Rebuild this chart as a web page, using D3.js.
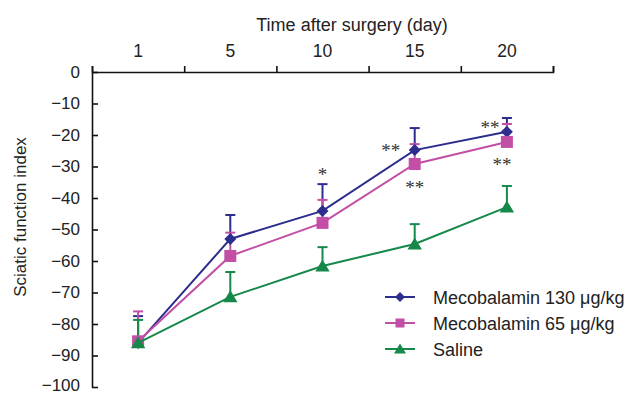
<!DOCTYPE html>
<html>
<head>
<meta charset="utf-8">
<script src="https://cdn.jsdelivr.net/npm/d3@7"></script>
<style>
  body { margin: 0; background: #fff; }
  svg { display: block; font-family: "Liberation Sans", Arial, sans-serif; }
</style>
</head>
<body>
<svg id="chart" width="633" height="394"></svg>
<script>
// days on the x axis
var days = ["1", "5", "10", "15", "20"];

// mean sciatic function index per group
var meco130 = [-86, -53, -44.1, -24.8, -19];
var meco65 = [-85.5, -58.4, -47.9, -29.2, -22.2];
var saline = [-86, -71.4, -61.6, -54.6, -42.9];

// upper error bar length (SD)
var meco130Sd = [8.5, 7.6, 8.5, 7, 4.4];
var meco65Sd = [9.5, 7.4, 7.3, 6.3, 5.7];
var salineSd = [7.3, 7.9, 6, 6.3, 6.7];

var yTicks = [0, -10, -20, -30, -40, -50, -60, -70, -80, -90, -100];

// significance marks: day, value where the mark sits, side of the point
var marks = [
  { day: "10", value: -31.7, text: "*", side: "center" },
  { day: "15", value: -24.1, text: "**", side: "left" },
  { day: "15", value: -35.9, text: "**", side: "center" },
  { day: "20", value: -16.8, text: "**", side: "left" },
  { day: "20", value: -28.6, text: "**", side: "right" }
];

var series = [
  { name: "Mecobalamin 130 \u03bcg/kg", values: meco130, sd: meco130Sd, color: "#2c2d8c", shape: "diamond" },
  { name: "Mecobalamin 65 \u03bcg/kg", values: meco65, sd: meco65Sd, color: "#c24fa5", shape: "square" },
  { name: "Saline", values: saline, sd: salineSd, color: "#16894a", shape: "triangle" }
];

var svg = d3.select("#chart");

var x = d3.scaleBand()
  .domain(days)
  .range([92, 553]);

var xEdge = d3.scaleLinear()
  .domain([0, days.length])
  .range([92, 553]);

var y = d3.scaleLinear()
  .domain([-100, 0])
  .range([387, 72]);

function cx(d) { return x(d) + x.bandwidth() / 2; }

// marker shapes
function markerPath(shape, s) {
  if (shape == "diamond") {
    return "M0," + (-s) + "L" + s + ",0L0," + s + "L" + (-s) + ",0Z";
  } else if (shape == "square") {
    return "M" + (-s) + "," + (-s) + "H" + s + "V" + s + "H" + (-s) + "Z";
  } else {
    return "M0," + (-s * 1.1) + "L" + (s * 1.2) + "," + (s * 0.9) + "L" + (-s * 1.2) + "," + (s * 0.9) + "Z";
  }
}

// axes
var yAxis = svg.append("g")
  .attr("transform", "translate(92,0)")
  .call(d3.axisLeft(y)
    .tickValues(yTicks)
    .tickSizeInner(-6)
    .tickSizeOuter(0)
    .tickPadding(12));

yAxis.select(".domain").attr("stroke", "#111").attr("stroke-width", 1.6);
yAxis.selectAll(".tick line").attr("stroke", "#111").attr("stroke-width", 1.6);
yAxis.selectAll("text").attr("font-size", 17).attr("fill", "#222")
  .attr("font-family", "Liberation Sans, Arial, sans-serif")
  .attr("dy", function(d) { return d == -100 ? "0.2em" : "0.32em"; });

var xTicks = svg.append("g")
  .attr("transform", "translate(0," + y(0) + ")")
  .call(d3.axisTop(xEdge)
    .ticks(days.length)
    .tickSizeInner(6)
    .tickSizeOuter(6)
    .tickFormat(""));

xTicks.select(".domain").attr("stroke", "#111").attr("stroke-width", 1.6);
xTicks.selectAll(".tick line").attr("stroke", "#111").attr("stroke-width", 1.6);

var xLabels = svg.append("g")
  .attr("transform", "translate(0," + y(0) + ")")
  .call(d3.axisTop(x).tickSize(0).tickPadding(15));

xLabels.select(".domain").remove();
xLabels.selectAll("text").attr("font-size", 17.5).attr("fill", "#222")
  .attr("font-family", "Liberation Sans, Arial, sans-serif");

svg.append("text")
  .attr("x", 352)
  .attr("y", 31)
  .attr("text-anchor", "middle")
  .attr("font-size", 18)
  .attr("fill", "#222")
  .text("Time after surgery (day)");

svg.append("text")
  .attr("transform", "translate(26,217) rotate(-90)")
  .attr("text-anchor", "middle")
  .attr("font-size", 17)
  .attr("fill", "#222")
  .text("Sciatic function index");

// error bars (upper only), drawn first so markers sit on top
series.forEach(function(s) {
  var g = svg.append("g");
  days.forEach(function(d, i) {
    var top = y(s.values[i] + s.sd[i]);
    g.append("line")
      .attr("x1", cx(d)).attr("x2", cx(d))
      .attr("y1", y(s.values[i])).attr("y2", top)
      .attr("stroke", s.color).attr("stroke-width", 2);
    g.append("line")
      .attr("x1", cx(d) - 5).attr("x2", cx(d) + 5)
      .attr("y1", top).attr("y2", top)
      .attr("stroke", s.color).attr("stroke-width", 2);
  });
});

var line = d3.line()
  .x(function(d, i) { return cx(days[i]); })
  .y(function(d) { return y(d); });

series.forEach(function(s) {
  svg.append("path")
    .attr("d", line(s.values))
    .attr("fill", "none")
    .attr("stroke", s.color)
    .attr("stroke-width", 2);

  svg.append("g").selectAll("path")
    .data(s.values)
    .enter()
    .append("path")
    .attr("transform", function(d, i) { return "translate(" + cx(days[i]) + "," + y(d) + ")"; })
    .attr("d", markerPath(s.shape, 6))
    .attr("fill", s.color);
});

// significance marks
svg.append("g").selectAll("text")
  .data(marks)
  .enter()
  .append("text")
  .attr("x", function(d) {
    var off = d.side == "left" ? (d.day == "20" ? -17 : -24) : (d.side == "right" ? -5 : 0);
    return cx(d.day) + off;
  })
  .attr("y", function(d) { return y(d.value) + 9; })
  .attr("text-anchor", "middle")
  .attr("font-family", "Liberation Serif, Times New Roman, serif")
  .attr("font-size", 19)
  .attr("fill", "#333")
  .text(function(d) { return d.text; });

// legend
var legend = svg.append("g");
var legendY = [297, 323, 349];
series.forEach(function(s, i) {
  legend.append("line")
    .attr("x1", 385).attr("x2", 415)
    .attr("y1", legendY[i]).attr("y2", legendY[i])
    .attr("stroke", s.color).attr("stroke-width", 2);
  legend.append("path")
    .attr("transform", "translate(400," + legendY[i] + ")")
    .attr("d", markerPath(s.shape, s.shape == "square" ? 4.5 : 5))
    .attr("fill", s.color);
  legend.append("text")
    .attr("x", 433)
    .attr("y", legendY[i] + 6.5)
    .attr("font-size", 18)
    .attr("fill", "#222")
    .text(s.name);
});
</script>
</body>
</html>
